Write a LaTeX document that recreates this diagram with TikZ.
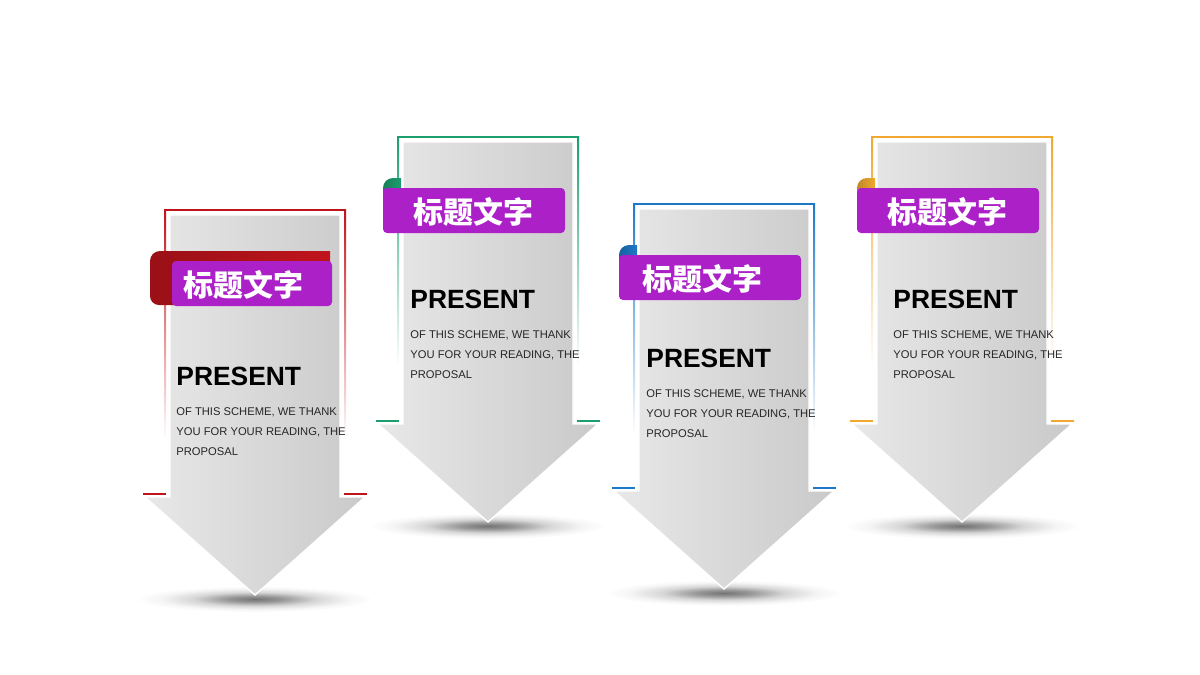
\documentclass[tikz,border=0pt]{standalone}
\usepackage{fontspec}
\setmainfont{Liberation Sans}
\newfontfamily\cjk{Noto Sans CJK SC}
\usetikzlibrary{positioning}

\definecolor{cardred}{RGB}{192,20,28}
\definecolor{cardgreen}{RGB}{28,158,110}
\definecolor{cardblue}{RGB}{30,120,200}
\definecolor{cardorange}{RGB}{240,168,48}
\definecolor{tabpurple}{RGB}{172,32,200}

\pgfdeclareradialshading{cardglow}{\pgfpoint{0bp}{0bp}}{color(0bp)=(black!55); color(6bp)=(black!40); color(13bp)=(black!16); color(20bp)=(black!4); color(25bp)=(white); color(50bp)=(white)}

\tikzset{
	cardframe/.style={draw=#1, line width=1},
	cardside/.style={top color=#1, bottom color=white},
	cardbody/.style={left color=black!9, right color=black!21, draw=white, line width=0.7},
	cardshadow/.style={shading=cardglow},
	tabfold/.style={left color=#1!80!black, right color=#1},
	tabbox/.style={fill=tabpurple, rounded corners=2},
	tabtext/.style={font=\cjk\bfseries\fontsize{15}{18}\selectfont, text=white, inner sep=0},
	headline/.style={font=\bfseries\fontsize{13.2}{15}\selectfont, anchor=base west, inner sep=0},
	bodytext/.style={font=\fontsize{5.6}{10}\selectfont, align=left, anchor=north west, inner sep=0, text=black!85}
}

\begin{document}
\begin{tikzpicture}[x=0.5pt, y=-0.5pt]
		\useasboundingbox (0,0) rectangle (1200,675);
		\foreach \n/\cx/\cy/\col/\br/\pl/\tx/\px/\py in {1/255/210/cardred/75/-83/-12/-79/175, 2/488/137/cardgreen/-87/-105/-15/-78/171, 3/724/204/cardblue/-87/-105/-22/-78/163, 4/962/137/cardorange/-87/-105/-15/-69/171}{
		\begin{scope}[shift={(\cx,\cy)}]
		\shade[cardshadow] (0,389) ellipse [x radius=118, y radius=13];
		\draw[cardframe=\col] (-90,0) -- (90,0);
		\shade[cardside=\col] (-91,-1) rectangle (-89,230);
		\shade[cardside=\col] (89,-1) rectangle (91,230);
		\draw[cardframe=\col] (-112,284) -- (-89,284);
		\draw[cardframe=\col] (89,284) -- (112,284);
		\path[cardbody] (-85,5) -- (85,5) -- (85,287) -- (110,287) -- (0,385) -- (-110,287) -- (-85,287) -- cycle;
		% ribbon folded round the card
		\path[tabfold=\col] (\br,95) -- (\br,41) -- (-95,41) arc[start angle=270, end angle=180, radius=10] -- (-105,86) arc[start angle=180, end angle=90, radius=9] -- cycle;
		\fill[tabbox] (\pl,51) rectangle (77,96);
		\node[tabtext] (title\n) at (\tx,75) {标题文字};
		\node[headline] (present\n) at (\px,\py) {PRESENT};
		\node[bodytext] (body\n) at (\px,\py+22) {OF THIS SCHEME, WE THANK\\YOU FOR YOUR READING, THE\\PROPOSAL};
		\end{scope}
		}
\end{tikzpicture}
\end{document}
